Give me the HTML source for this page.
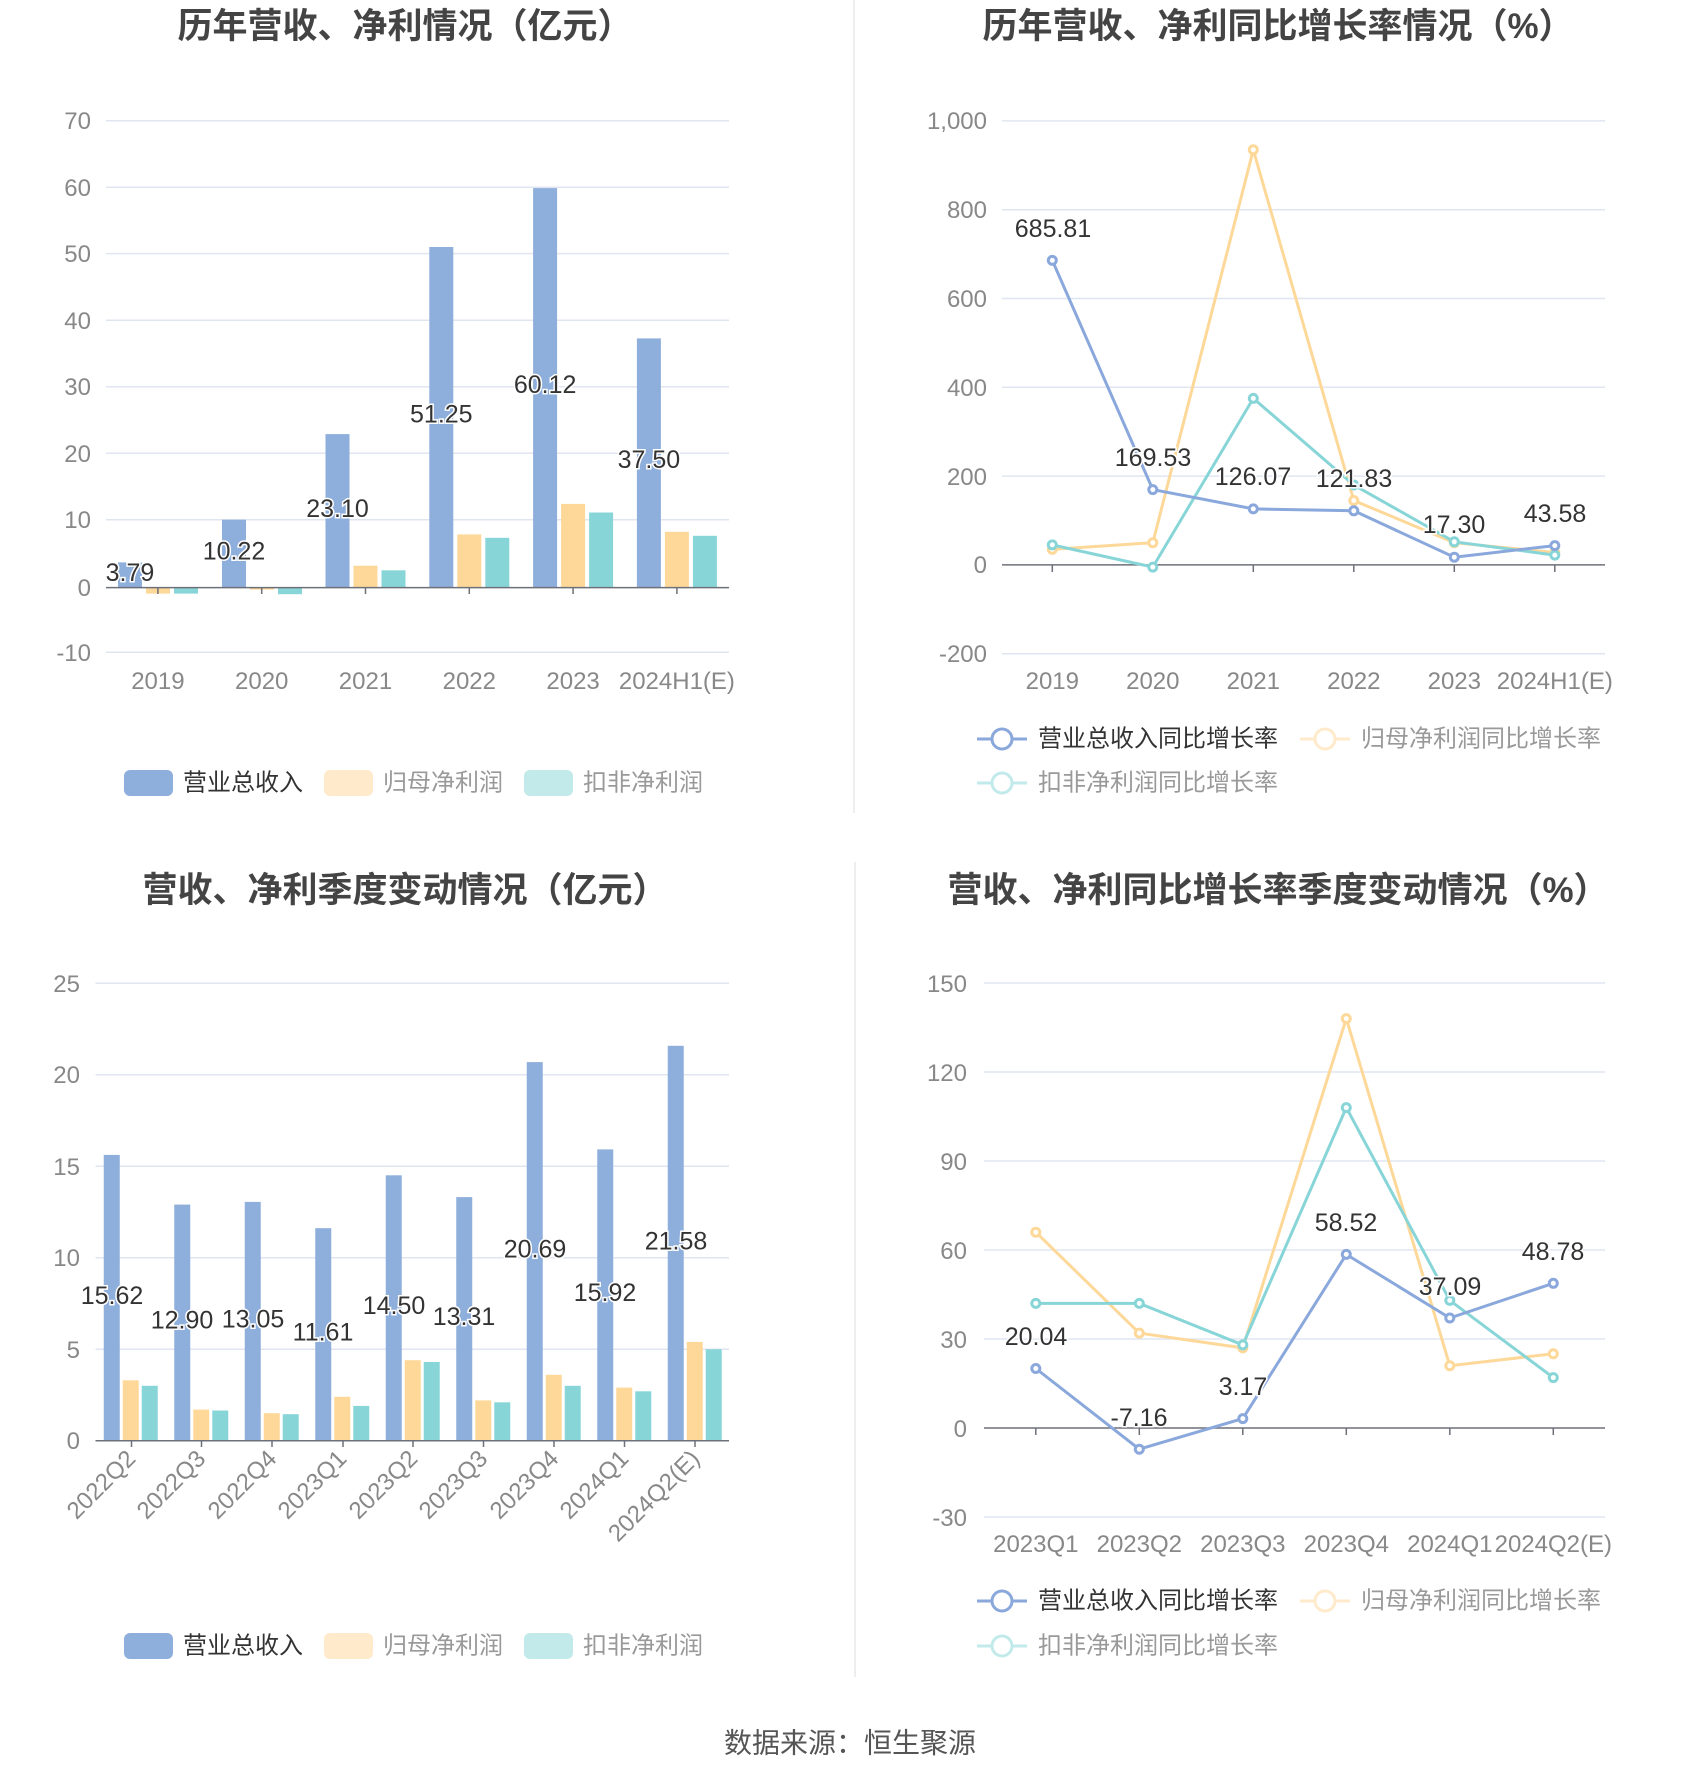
<!DOCTYPE html>
<html><head><meta charset="utf-8"><style>
html,body{margin:0;padding:0;background:#fff}
svg{display:block;font-family:"Liberation Sans","Noto Sans CJK SC",sans-serif}
.t{font-size:35px;font-weight:bold;fill:#444;text-anchor:middle}
.ax{font-size:24px;fill:#888}
.lb{font-size:25px;fill:#333;stroke:#fff;stroke-width:3px;paint-order:stroke;text-anchor:middle;dominant-baseline:central}
.lg{font-size:24px;dominant-baseline:central}
.g{stroke:#e0e6f1;stroke-width:1.5}
</style></head><body>
<svg width="1700" height="1782" viewBox="0 0 1700 1782">
<line x1="854" y1="0" x2="854" y2="813" stroke="#eee" stroke-width="2"/>
<line x1="855" y1="862" x2="855" y2="1677" stroke="#eee" stroke-width="2"/>

<!-- Titles -->
<text class="t" x="405" y="38">历年营收、净利情况（亿元）</text>
<text class="t" x="1278" y="38">历年营收、净利同比增长率情况（%）</text>
<text class="t" x="405" y="902">营收、净利季度变动情况（亿元）</text>
<text class="t" x="1278" y="902">营收、净利同比增长率季度变动情况（%）</text>

<!-- TL chart -->
<g class="g">
<line x1="106" y1="120.7" x2="729" y2="120.7"/><line x1="106" y1="187.2" x2="729" y2="187.2"/>
<line x1="106" y1="253.6" x2="729" y2="253.6"/><line x1="106" y1="320.2" x2="729" y2="320.2"/>
<line x1="106" y1="386.7" x2="729" y2="386.7"/><line x1="106" y1="453.2" x2="729" y2="453.2"/>
<line x1="106" y1="519.7" x2="729" y2="519.7"/><line x1="106" y1="652.3" x2="729" y2="652.3"/>
</g>
<g class="ax" text-anchor="end">
<text x="91" y="129">70</text><text x="91" y="196">60</text><text x="91" y="262">50</text><text x="91" y="329">40</text>
<text x="91" y="395">30</text><text x="91" y="462">20</text><text x="91" y="528">10</text><text x="91" y="596">0</text><text x="91" y="661">-10</text>
</g>
<g fill="#8eaedb">
<rect x="118" y="562.4" width="24" height="25.2"/><rect x="222" y="519.7" width="24" height="67.9"/>
<rect x="325.5" y="434.1" width="24" height="153.5"/><rect x="429.3" y="247" width="24" height="340.6"/>
<rect x="533.1" y="188.1" width="24" height="399.5"/><rect x="636.9" y="338.4" width="24" height="249.2"/>
</g>
<g fill="#fdd899">
<rect x="146" y="587.6" width="24" height="6"/><rect x="250" y="587.6" width="24" height="2"/>
<rect x="353.5" y="565.7" width="24" height="21.9"/><rect x="457.3" y="534.4" width="24" height="53.2"/>
<rect x="561.1" y="503.9" width="24" height="83.7"/><rect x="664.9" y="531.8" width="24" height="55.8"/>
</g>
<g fill="#88d5d8">
<rect x="174" y="587.6" width="24" height="6"/><rect x="278" y="587.6" width="24" height="6.6"/>
<rect x="381.5" y="570.3" width="24" height="17.3"/><rect x="485.3" y="537.8" width="24" height="49.8"/>
<rect x="589.1" y="512.5" width="24" height="75.1"/><rect x="692.9" y="535.8" width="24" height="51.8"/>
</g>
<line x1="106" y1="587.6" x2="729" y2="587.6" stroke="#6e7079" stroke-width="1.5"/>
<g stroke="#6e7079" stroke-width="1.5">
<line x1="157.9" y1="587.6" x2="157.9" y2="594"/><line x1="261.7" y1="587.6" x2="261.7" y2="594"/><line x1="365.5" y1="587.6" x2="365.5" y2="594"/>
<line x1="469.3" y1="587.6" x2="469.3" y2="594"/><line x1="573.1" y1="587.6" x2="573.1" y2="594"/><line x1="676.9" y1="587.6" x2="676.9" y2="594"/>
</g>
<g class="lb">
<text x="130" y="573">3.79</text><text x="234" y="551.6">10.22</text><text x="337.5" y="508.8">23.10</text>
<text x="441.3" y="414.3">51.25</text><text x="545.1" y="384.8">60.12</text><text x="648.9" y="460">37.50</text>
</g>
<g class="ax" text-anchor="middle">
<text x="157.9" y="689">2019</text><text x="261.7" y="689">2020</text><text x="365.5" y="689">2021</text>
<text x="469.3" y="689">2022</text><text x="573.1" y="689">2023</text><text x="676.9" y="689">2024H1(E)</text>
</g>
<g class="lg">
<rect x="124" y="770" width="49" height="26" rx="6" fill="#8eaedb"/><text x="183" y="783" fill="#333">营业总收入</text>
<rect x="324" y="770" width="49" height="26" rx="6" fill="#ffeacb"/><text x="383" y="783" fill="#999">归母净利润</text>
<rect x="524" y="770" width="49" height="26" rx="6" fill="#c2eaeb"/><text x="583" y="783" fill="#999">扣非净利润</text>
</g>

<!-- TR chart -->
<g class="g">
<line x1="1002" y1="120.9" x2="1605" y2="120.9"/><line x1="1002" y1="209.7" x2="1605" y2="209.7"/>
<line x1="1002" y1="298.5" x2="1605" y2="298.5"/><line x1="1002" y1="387.3" x2="1605" y2="387.3"/>
<line x1="1002" y1="476.1" x2="1605" y2="476.1"/><line x1="1002" y1="653.7" x2="1605" y2="653.7"/>
</g>
<line x1="1002" y1="564.9" x2="1605" y2="564.9" stroke="#6e7079" stroke-width="1.5"/>
<g stroke="#6e7079" stroke-width="1.5">
<line x1="1052.3" y1="565" x2="1052.3" y2="572"/><line x1="1152.8" y1="565" x2="1152.8" y2="572"/><line x1="1253.3" y1="565" x2="1253.3" y2="572"/>
<line x1="1353.8" y1="565" x2="1353.8" y2="572"/><line x1="1454.3" y1="565" x2="1454.3" y2="572"/><line x1="1554.8" y1="565" x2="1554.8" y2="572"/>
</g>
<g class="ax" text-anchor="end">
<text x="987" y="129">1,000</text><text x="987" y="218">800</text><text x="987" y="307">600</text><text x="987" y="396">400</text>
<text x="987" y="485">200</text><text x="987" y="573">0</text><text x="987" y="662">-200</text>
</g>
<g fill="#fff" stroke-width="3">
<polyline points="1052.3,549.4 1152.8,542.7 1253.3,149.8 1353.8,500.5 1454.3,542.7 1554.8,552.5" fill="none" stroke="#fdd899"/>
<polyline points="1052.3,544.9 1152.8,567.1 1253.3,398.4 1353.8,485 1454.3,541.8 1554.8,555.1" fill="none" stroke="#88d5d8"/>
<polyline points="1052.3,260.4 1152.8,489.6 1253.3,508.9 1353.8,510.8 1454.3,557.2 1554.8,545.6" fill="none" stroke="#8aa8dc"/>
<g stroke="#fdd899"><circle cx="1052.3" cy="549.4" r="4"/><circle cx="1152.8" cy="542.7" r="4"/><circle cx="1253.3" cy="149.8" r="4"/><circle cx="1353.8" cy="500.5" r="4"/><circle cx="1454.3" cy="542.7" r="4"/><circle cx="1554.8" cy="552.5" r="4"/></g>
<g stroke="#88d5d8"><circle cx="1052.3" cy="544.9" r="4"/><circle cx="1152.8" cy="567.1" r="4"/><circle cx="1253.3" cy="398.4" r="4"/><circle cx="1353.8" cy="485" r="4"/><circle cx="1454.3" cy="541.8" r="4"/><circle cx="1554.8" cy="555.1" r="4"/></g>
<g stroke="#8aa8dc"><circle cx="1052.3" cy="260.4" r="4"/><circle cx="1152.8" cy="489.6" r="4"/><circle cx="1253.3" cy="508.9" r="4"/><circle cx="1353.8" cy="510.8" r="4"/><circle cx="1454.3" cy="557.2" r="4"/><circle cx="1554.8" cy="545.6" r="4"/></g>
</g>
<g class="lb">
<text x="1053" y="229">685.81</text><text x="1153" y="458">169.53</text><text x="1253" y="477">126.07</text>
<text x="1354" y="479">121.83</text><text x="1454" y="525">17.30</text><text x="1555" y="514">43.58</text>
</g>
<g class="ax" text-anchor="middle">
<text x="1052.3" y="689">2019</text><text x="1152.8" y="689">2020</text><text x="1253.3" y="689">2021</text>
<text x="1353.8" y="689">2022</text><text x="1454.3" y="689">2023</text><text x="1554.8" y="689">2024H1(E)</text>
</g>
<g class="lg">
<line x1="977" y1="739" x2="1027" y2="739" stroke="#8aa8dc" stroke-width="3"/><circle cx="1002" cy="739" r="10" fill="#fff" stroke="#8aa8dc" stroke-width="3"/>
<text x="1038" y="739" fill="#333">营业总收入同比增长率</text>
<line x1="1300" y1="739" x2="1350" y2="739" stroke="#ffeacb" stroke-width="3"/><circle cx="1325" cy="739" r="10" fill="#fff" stroke="#ffeacb" stroke-width="3"/>
<text x="1361" y="739" fill="#999">归母净利润同比增长率</text>
<line x1="977" y1="783" x2="1027" y2="783" stroke="#c2eaeb" stroke-width="3"/><circle cx="1002" cy="783" r="10" fill="#fff" stroke="#c2eaeb" stroke-width="3"/>
<text x="1038" y="783" fill="#999">扣非净利润同比增长率</text>
</g>

<!-- BL chart -->
<g class="g">
<line x1="95.5" y1="983.2" x2="729" y2="983.2"/><line x1="95.5" y1="1074.7" x2="729" y2="1074.7"/>
<line x1="95.5" y1="1166.2" x2="729" y2="1166.2"/><line x1="95.5" y1="1257.7" x2="729" y2="1257.7"/>
<line x1="95.5" y1="1349.2" x2="729" y2="1349.2"/>
</g>
<g class="ax" text-anchor="end">
<text x="80" y="992">25</text><text x="80" y="1083">20</text><text x="80" y="1175">15</text><text x="80" y="1266">10</text>
<text x="80" y="1358">5</text><text x="80" y="1449">0</text>
</g>
<g fill="#8eaedb">
<rect x="103.75" y="1154.9" width="16" height="285.8"/><rect x="174.25" y="1204.6" width="16" height="236.1"/>
<rect x="244.75" y="1201.9" width="16" height="238.8"/><rect x="315.25" y="1228.2" width="16" height="212.5"/>
<rect x="385.75" y="1175.3" width="16" height="265.4"/><rect x="456.25" y="1197.1" width="16" height="243.6"/>
<rect x="526.75" y="1062.1" width="16" height="378.6"/><rect x="597.25" y="1149.4" width="16" height="291.3"/>
<rect x="667.75" y="1045.8" width="16" height="394.9"/>
</g>
<g fill="#fdd899">
<rect x="122.75" y="1380.3" width="16" height="60.4"/><rect x="193.25" y="1409.6" width="16" height="31.1"/>
<rect x="263.75" y="1413.2" width="16" height="27.5"/><rect x="334.25" y="1396.8" width="16" height="43.9"/>
<rect x="404.75" y="1360.2" width="16" height="80.5"/><rect x="475.25" y="1400.4" width="16" height="40.3"/>
<rect x="545.75" y="1374.8" width="16" height="65.9"/><rect x="616.25" y="1387.6" width="16" height="53.1"/>
<rect x="686.75" y="1341.9" width="16" height="98.8"/>
</g>
<g fill="#88d5d8">
<rect x="141.75" y="1385.8" width="16" height="54.9"/><rect x="212.25" y="1410.5" width="16" height="30.2"/>
<rect x="282.75" y="1414.2" width="16" height="26.5"/><rect x="353.25" y="1405.9" width="16" height="34.8"/>
<rect x="423.75" y="1362" width="16" height="78.7"/><rect x="494.25" y="1402.3" width="16" height="38.4"/>
<rect x="564.75" y="1385.8" width="16" height="54.9"/><rect x="635.25" y="1391.3" width="16" height="49.4"/>
<rect x="705.75" y="1349.2" width="16" height="91.5"/>
</g>
<line x1="95.5" y1="1440.7" x2="729" y2="1440.7" stroke="#6e7079" stroke-width="1.5"/>
<g stroke="#6e7079" stroke-width="1.5">
<line x1="131.5" y1="1441" x2="131.5" y2="1447"/><line x1="201.5" y1="1441" x2="201.5" y2="1447"/><line x1="272" y1="1441" x2="272" y2="1447"/>
<line x1="343" y1="1441" x2="343" y2="1447"/><line x1="413" y1="1441" x2="413" y2="1447"/><line x1="483.5" y1="1441" x2="483.5" y2="1447"/>
<line x1="554" y1="1441" x2="554" y2="1447"/><line x1="624.5" y1="1441" x2="624.5" y2="1447"/><line x1="695" y1="1441" x2="695" y2="1447"/>
</g>
<g class="lb">
<text x="112" y="1295.8">15.62</text><text x="182" y="1320.7">12.90</text><text x="253" y="1319.3">13.05</text>
<text x="323" y="1332.5">11.61</text><text x="394" y="1306">14.50</text><text x="464" y="1316.9">13.31</text>
<text x="535" y="1249.4">20.69</text><text x="605" y="1293">15.92</text><text x="676" y="1241.3">21.58</text>
</g>
<g class="ax" text-anchor="end">
<text transform="translate(137,1460) rotate(-45)">2022Q2</text>
<text transform="translate(207,1460) rotate(-45)">2022Q3</text>
<text transform="translate(278,1460) rotate(-45)">2022Q4</text>
<text transform="translate(348,1460) rotate(-45)">2023Q1</text>
<text transform="translate(419,1460) rotate(-45)">2023Q2</text>
<text transform="translate(489,1460) rotate(-45)">2023Q3</text>
<text transform="translate(560,1460) rotate(-45)">2023Q4</text>
<text transform="translate(630,1460) rotate(-45)">2024Q1</text>
<text transform="translate(701,1460) rotate(-45)">2024Q2(E)</text>
</g>
<g class="lg">
<rect x="124" y="1633" width="49" height="26" rx="6" fill="#8eaedb"/><text x="183" y="1646" fill="#333">营业总收入</text>
<rect x="324" y="1633" width="49" height="26" rx="6" fill="#ffeacb"/><text x="383" y="1646" fill="#999">归母净利润</text>
<rect x="524" y="1633" width="49" height="26" rx="6" fill="#c2eaeb"/><text x="583" y="1646" fill="#999">扣非净利润</text>
</g>

<!-- BR chart -->
<g class="g">
<line x1="984" y1="983" x2="1605" y2="983"/><line x1="984" y1="1072" x2="1605" y2="1072"/>
<line x1="984" y1="1161" x2="1605" y2="1161"/><line x1="984" y1="1250" x2="1605" y2="1250"/>
<line x1="984" y1="1339" x2="1605" y2="1339"/><line x1="984" y1="1517" x2="1605" y2="1517"/>
</g>
<line x1="984" y1="1428" x2="1605" y2="1428" stroke="#6e7079" stroke-width="1.5"/>
<g stroke="#6e7079" stroke-width="1.5">
<line x1="1035.8" y1="1428" x2="1035.8" y2="1435"/><line x1="1139.3" y1="1428" x2="1139.3" y2="1435"/><line x1="1242.8" y1="1428" x2="1242.8" y2="1435"/>
<line x1="1346.3" y1="1428" x2="1346.3" y2="1435"/><line x1="1449.8" y1="1428" x2="1449.8" y2="1435"/><line x1="1553.3" y1="1428" x2="1553.3" y2="1435"/>
</g>
<g class="ax" text-anchor="end">
<text x="967" y="992">150</text><text x="967" y="1081">120</text><text x="967" y="1170">90</text><text x="967" y="1259">60</text>
<text x="967" y="1348">30</text><text x="967" y="1437">0</text><text x="967" y="1526">-30</text>
</g>
<g fill="#fff" stroke-width="3">
<polyline points="1035.8,1232.2 1139.3,1333.1 1242.8,1347.9 1346.3,1018.6 1449.8,1365.7 1553.3,1353.8" fill="none" stroke="#fdd899"/>
<polyline points="1035.8,1303.4 1139.3,1303.4 1242.8,1344.9 1346.3,1107.6 1449.8,1300.4 1553.3,1377.6" fill="none" stroke="#88d5d8"/>
<polyline points="1035.8,1368.5 1139.3,1449.2 1242.8,1418.6 1346.3,1254.4 1449.8,1318 1553.3,1283.3" fill="none" stroke="#8aa8dc"/>
<g stroke="#fdd899"><circle cx="1035.8" cy="1232.2" r="4"/><circle cx="1139.3" cy="1333.1" r="4"/><circle cx="1242.8" cy="1347.9" r="4"/><circle cx="1346.3" cy="1018.6" r="4"/><circle cx="1449.8" cy="1365.7" r="4"/><circle cx="1553.3" cy="1353.8" r="4"/></g>
<g stroke="#88d5d8"><circle cx="1035.8" cy="1303.4" r="4"/><circle cx="1139.3" cy="1303.4" r="4"/><circle cx="1242.8" cy="1344.9" r="4"/><circle cx="1346.3" cy="1107.6" r="4"/><circle cx="1449.8" cy="1300.4" r="4"/><circle cx="1553.3" cy="1377.6" r="4"/></g>
<g stroke="#8aa8dc"><circle cx="1035.8" cy="1368.5" r="4"/><circle cx="1139.3" cy="1449.2" r="4"/><circle cx="1242.8" cy="1418.6" r="4"/><circle cx="1346.3" cy="1254.4" r="4"/><circle cx="1449.8" cy="1318" r="4"/><circle cx="1553.3" cy="1283.3" r="4"/></g>
</g>
<g class="lb">
<text x="1036" y="1337">20.04</text><text x="1139" y="1418">-7.16</text><text x="1243" y="1387">3.17</text>
<text x="1346" y="1223">58.52</text><text x="1450" y="1287">37.09</text><text x="1553" y="1252">48.78</text>
</g>
<g class="ax" text-anchor="middle">
<text x="1035.8" y="1552">2023Q1</text><text x="1139.3" y="1552">2023Q2</text><text x="1242.8" y="1552">2023Q3</text>
<text x="1346.3" y="1552">2023Q4</text><text x="1449.8" y="1552">2024Q1</text><text x="1553.3" y="1552">2024Q2(E)</text>
</g>
<g class="lg">
<line x1="977" y1="1601" x2="1027" y2="1601" stroke="#8aa8dc" stroke-width="3"/><circle cx="1002" cy="1601" r="10" fill="#fff" stroke="#8aa8dc" stroke-width="3"/>
<text x="1038" y="1601" fill="#333">营业总收入同比增长率</text>
<line x1="1300" y1="1601" x2="1350" y2="1601" stroke="#ffeacb" stroke-width="3"/><circle cx="1325" cy="1601" r="10" fill="#fff" stroke="#ffeacb" stroke-width="3"/>
<text x="1361" y="1601" fill="#999">归母净利润同比增长率</text>
<line x1="977" y1="1646" x2="1027" y2="1646" stroke="#c2eaeb" stroke-width="3"/><circle cx="1002" cy="1646" r="10" fill="#fff" stroke="#c2eaeb" stroke-width="3"/>
<text x="1038" y="1646" fill="#999">扣非净利润同比增长率</text>
</g>

<text x="850" y="1743" font-size="28" fill="#555" text-anchor="middle" dominant-baseline="central">数据来源：恒生聚源</text>
</svg>
</body></html>
